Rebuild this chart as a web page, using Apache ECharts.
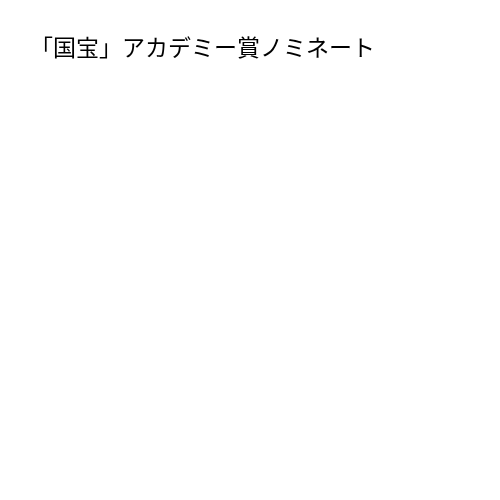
<!DOCTYPE html>
<html><head><meta charset="utf-8">
<script src="https://cdn.jsdelivr.net/npm/echarts@6/dist/echarts.min.js"></script>
<style>html,body{margin:0;padding:0;background:#fff;}#c{width:500px;height:500px;}</style>
</head><body><div id="c"></div>
<script>
const titleText = "「国宝」アカデミー賞ノミネート";
const categories = [];
const values = [];
const chart = echarts.init(document.getElementById('c'));
chart.setOption({
  backgroundColor: '#ffffff',
  animation: false,
  title: {
    text: titleText,
    left: 25,
    top: 31,
    textStyle: { fontFamily: 'Noto Sans CJK JP', fontSize: 23, fontWeight: 'normal', color: '#000' }
  },
  series: []
});
</script></body></html>
